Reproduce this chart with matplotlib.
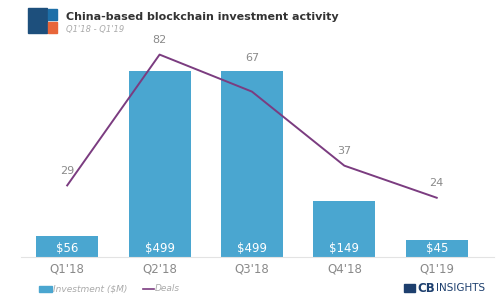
import matplotlib.pyplot as plt
from matplotlib.patches import Rectangle
from matplotlib.lines import Line2D

quarters = ["Q1'18", "Q2'18", "Q3'18", "Q4'18", "Q1'19"]
investment = [56, 499, 499, 149, 45]
deals = [29, 82, 67, 37, 24]

bar_color = '#4aa6d0'
line_color = '#7b3c80'
gray = '#8a8a8a'

fig = plt.figure(figsize=(5, 3), dpi=100)
ax = fig.add_axes([0.042, 0.1433, 0.946, 0.757])
x = range(len(quarters))

bars = ax.bar(x, investment, width=0.67, color=bar_color, zorder=2)
ax.set_ylim(0, 608)
ax.set_xlim(-0.5, 4.62)
for b, v in zip(bars, investment):
    ax.text(b.get_x() + b.get_width() / 2, 22, f'${v}', ha='center', va='center',
            color='white', fontsize=8.5, zorder=4)

ax.set_xticks(list(x))
ax.set_xticklabels(quarters, color=gray, fontsize=8.5)
ax.tick_params(axis='x', length=0, pad=4)
ax.set_yticks([])
for s in ['top', 'right', 'left']:
    ax.spines[s].set_visible(False)
ax.spines['bottom'].set_color('#e3e3e3')

ax2 = ax.twinx()
ax2.plot(x, deals, color=line_color, lw=1.4, zorder=3)
ax2.set_ylim(0, 92)
ax2.set_yticks([])
for s in ax2.spines.values():
    s.set_visible(False)
for i, d in enumerate(deals):
    # label sits above the bar when the bar is higher than the point
    y = d + 4
    if investment[i] / 608 * 92 > d:
        y = investment[i] / 608 * 92 + 3
    ax2.text(i, y, str(d), ha='center', va='bottom', color=gray, fontsize=8)

# header
fig.text(0.132, 0.945, 'China-based blockchain investment activity', fontsize=8,
         fontweight='bold', color='#333333', va='center')
fig.text(0.132, 0.903, "Q1'18 - Q1'19", fontsize=6, style='italic', color='#aaaaaa', va='center')
fig.patches.append(Rectangle((0.056, 0.89), 0.038, 0.085, transform=fig.transFigure,
                             color='#1d4f7c', figure=fig))
fig.patches.append(Rectangle((0.096, 0.89), 0.018, 0.035, transform=fig.transFigure,
                             color='#e8663a', figure=fig))
fig.patches.append(Rectangle((0.096, 0.935), 0.018, 0.035, transform=fig.transFigure,
                             color='#1d6fa8', figure=fig))

# legend
fig.patches.append(Rectangle((0.078, 0.028), 0.025, 0.02, transform=fig.transFigure,
                             color=bar_color, figure=fig))
fig.text(0.106, 0.038, 'Investment ($M)', fontsize=6.5, style='italic', color='#aaaaaa', va='center')
fig.lines.append(Line2D([0.286, 0.308], [0.038, 0.038], transform=fig.transFigure,
                        color=line_color, lw=1.2))
fig.text(0.31, 0.038, 'Deals', fontsize=6.5, style='italic', color='#aaaaaa', va='center')

fig.patches.append(Rectangle((0.808, 0.028), 0.022, 0.025, transform=fig.transFigure,
                             color='#1d3f6e', figure=fig))
fig.text(0.834, 0.04, 'CB', fontsize=8.5, fontweight='bold', color='#1d3f6e', va='center')
fig.text(0.872, 0.04, 'INSIGHTS', fontsize=7.5, color='#1d3f6e', va='center')

fig.savefig('out.png', dpi=100)
